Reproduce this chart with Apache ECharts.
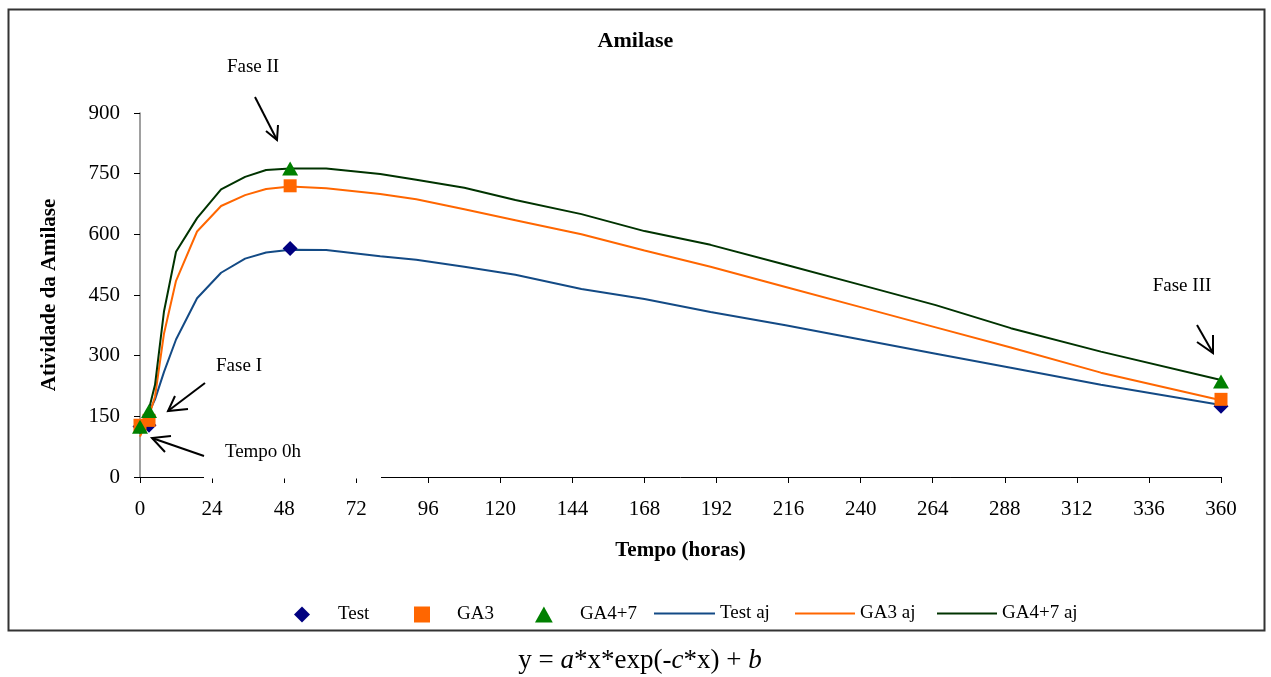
<!DOCTYPE html>
<html>
<head>
<meta charset="utf-8">
<script src="https://cdn.jsdelivr.net/npm/echarts@6/dist/echarts.min.js"></script>
<style>
html,body{margin:0;padding:0;background:#fff;}
#chart{width:1271px;height:677px;}
</style>
</head>
<body>
<div id="chart"></div>
<script>
// ---- data ----
const obsHours = [0, 3, 50, 360];
const testObs = [125, 128, 565, 175];
const ga3Obs = [128, 140, 720, 192];
const ga47Obs = [124, 163, 763, 236];

const fitHours = [0, 3, 5, 8, 12, 19, 27, 35, 42, 50, 62, 80, 92, 108, 125, 147, 168, 190, 215, 240, 265, 290, 320, 360];
const testFit = [125, 160, 192, 260, 340, 442, 505, 540, 555, 562, 561, 546, 537, 520, 500, 465, 440, 408, 375, 340, 305, 270, 228, 178];
const ga3Fit = [100, 150, 199, 355, 485, 607, 670, 697, 712, 718, 714, 700, 687, 662, 635, 600, 560, 520, 470, 420, 370, 320, 258, 190];
const ga47Fit = [125, 168, 228, 410, 557, 640, 711, 742, 759, 763, 763, 749, 735, 715, 685, 650, 608, 574, 525, 475, 425, 368, 310, 240];

const seriesNames = ['Test', 'GA3', 'GA4+7', 'Test aj', 'GA3 aj', 'GA4+7 aj'];
const titleText = 'Amilase';
const xName = 'Tempo (horas)';
const yName = 'Atividade da Amilase';

const pair = (xs, ys) => xs.map((x, i) => [x, ys[i]]);
const SERIF = '"Liberation Serif", "DejaVu Serif", serif';

const chart = echarts.init(document.getElementById('chart'), null, {renderer: 'canvas'});

function arrow(x1, y1, x2, y2, h1, h2) {
  return {
    type: 'group', z: 50,
    children: [
      {type: 'polyline', shape: {points: [[x1, y1], [x2, y2]]}, style: {stroke: '#000', lineWidth: 2, fill: null}},
      {type: 'polyline', shape: {points: [h1, [x2, y2], h2]}, style: {stroke: '#000', lineWidth: 2, fill: null}}
    ]
  };
}

const ICON_DIAMOND = 'path://M5,0 L10,5 L5,10 L0,5 Z';
const ICON_SQUARE = 'path://M1.5,1.5 L8.5,1.5 L8.5,8.5 L1.5,8.5 Z';
const ICON_TRIANGLE = 'path://M5,0 L10,9 L0,9 Z';

// legend item placement (left edge of visible icon)
const legendPos = [
  {name: seriesNames[0], left: 294, w: 62, icon: ICON_DIAMOND},
  {name: seriesNames[1], left: 414, w: 60, icon: ICON_SQUARE},
  {name: seriesNames[2], left: 535, w: 62, icon: ICON_TRIANGLE},
  {name: seriesNames[3], left: 654, w: 61, icon: 'rect'},
  {name: seriesNames[4], left: 795, w: 60, icon: 'rect'},
  {name: seriesNames[5], left: 937, w: 60, icon: 'rect'}
];

const option = {
  backgroundColor: '#fff',
  animation: false,
  title: {
    text: titleText, left: 'center', top: 25,
    textStyle: {fontFamily: SERIF, fontSize: 22, fontWeight: 'bold', color: '#000'}
  },
  legend: legendPos.map(p => {
    const isLine = p.icon === 'rect';
    return {
      data: [p.name], left: p.left, top: isLine ? 604 : 605, itemWidth: p.w, itemHeight: isLine ? 2 : 16,
      icon: p.icon, symbolKeepAspect: true,
      padding: 0, selectedMode: false,
      textStyle: {fontFamily: SERIF, fontSize: 19, color: '#000'}
    };
  }),
  grid: {left: 140, right: 50, top: 113, bottom: 200, containLabel: false},
  xAxis: {
    type: 'value', min: 0, max: 360, interval: 24,
    name: xName, nameLocation: 'middle', nameGap: 63,
    nameTextStyle: {fontFamily: SERIF, fontSize: 21, fontWeight: 'bold', color: '#000'},
    axisLine: {show: true, onZero: false, lineStyle: {color: '#000', width: 1}},
    axisTick: {show: true, inside: false, length: 6, lineStyle: {color: '#000'}},
    axisLabel: {margin: 22, fontFamily: SERIF, fontSize: 21, color: '#000'},
    splitLine: {show: false}
  },
  yAxis: {
    type: 'value', min: 0, max: 900, interval: 150,
    name: yName, nameLocation: 'middle', nameGap: 80, nameRotate: 90,
    nameTextStyle: {fontFamily: SERIF, fontSize: 21, fontWeight: 'bold', color: '#000'},
    axisLine: {show: true, lineStyle: {color: '#808080', width: 1.5}},
    axisTick: {show: true, inside: false, length: 6, lineStyle: {color: '#000'}},
    axisLabel: {margin: 20, fontFamily: SERIF, fontSize: 21, color: '#000'},
    splitLine: {show: false}
  },
  series: [
    {name: seriesNames[0], type: 'scatter', data: pair(obsHours, testObs), symbol: 'diamond', symbolSize: 15,
     itemStyle: {color: '#000080', opacity: 1}, z: 10},
    {name: seriesNames[1], type: 'scatter', data: pair(obsHours, ga3Obs), symbol: 'rect', symbolSize: 13,
     itemStyle: {color: '#ff6600', opacity: 1}, z: 11},
    {name: seriesNames[2], type: 'scatter', data: pair(obsHours, ga47Obs), symbol: 'triangle', symbolSize: [16, 14],
     itemStyle: {color: '#008000', opacity: 1}, z: 12},
    {name: seriesNames[3], type: 'line', data: pair(fitHours, testFit), symbol: 'none', showSymbol: false,
     lineStyle: {color: '#134a85', width: 2}, itemStyle: {color: '#134a85'}, z: 3},
    {name: seriesNames[4], type: 'line', data: pair(fitHours, ga3Fit), symbol: 'none', showSymbol: false,
     lineStyle: {color: '#ff6600', width: 2}, itemStyle: {color: '#ff6600'}, z: 3},
    {name: seriesNames[5], type: 'line', data: pair(fitHours, ga47Fit), symbol: 'none', showSymbol: false,
     lineStyle: {color: '#003300', width: 2}, itemStyle: {color: '#003300'}, z: 3}
  ],
  graphic: [
    {type: 'rect', z: -1, silent: true, shape: {x: 8.5, y: 9.5, width: 1256, height: 621},
     style: {fill: null, stroke: '#333', lineWidth: 2}},
    {type: 'rect', z: 40, silent: true, shape: {x: 204, y: 473, width: 177, height: 5.5},
     style: {fill: '#fff', stroke: null}},
    {type: 'text', z: 50, x: 253, y: 67, style: {text: 'Fase II', fontFamily: SERIF, fontSize: 19, fill: '#000', align: 'center', verticalAlign: 'middle'}},
    {type: 'text', z: 50, x: 239, y: 366, style: {text: 'Fase I', fontFamily: SERIF, fontSize: 19, fill: '#000', align: 'center', verticalAlign: 'middle'}},
    {type: 'text', z: 50, x: 263, y: 452, style: {text: 'Tempo 0h', fontFamily: SERIF, fontSize: 19, fill: '#000', align: 'center', verticalAlign: 'middle'}},
    {type: 'text', z: 50, x: 1182, y: 286, style: {text: 'Fase III', fontFamily: SERIF, fontSize: 19, fill: '#000', align: 'center', verticalAlign: 'middle'}},
    arrow(255, 97, 277, 140, [266, 131], [278, 125]),
    arrow(205, 383, 168, 411, [175, 396], [188, 409]),
    arrow(204, 456, 152, 438, [171, 436], [165, 452]),
    arrow(1197, 325, 1213, 353, [1197, 342], [1213, 335]),
    {type: 'text', z: 50, x: 640, y: 661, style: {
      text: '{n|y = }{i|a}{n|*x*exp(-}{i|c}{n|*x) + }{i|b}',
      align: 'center', verticalAlign: 'middle',
      rich: {
        n: {fontFamily: SERIF, fontSize: 27, fill: '#000', color: '#000'},
        i: {fontFamily: SERIF, fontSize: 27, fontStyle: 'italic', fill: '#000', color: '#000'}
      }
    }}
  ]
};
chart.setOption(option);
</script>
</body>
</html>
